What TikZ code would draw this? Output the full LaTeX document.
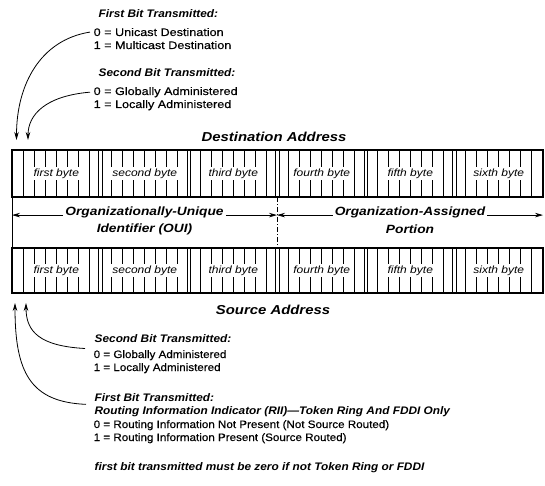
\documentclass[tikz,border=0pt]{standalone}
\usepackage{fontspec}
\setmainfont{Liberation Sans}[FakeStretch=1.15]
\newfontfamily\annfont{Liberation Sans}[FakeStretch=1.15, FakeBold=0.35]
\newfontfamily\botfont{Liberation Sans}[FakeStretch=1.08, FakeBold=0.35]
\newfontfamily\headfont{Liberation Sans}[FakeStretch=1.08]
\usetikzlibrary{arrows.meta}
\tikzset{
  ann/.style={font=\annfont\fontsize{11}{13}\selectfont, anchor=base west, inner sep=1.5bp},
  annb/.style={ann, font=\botfont\fontsize{10.8}{13}\selectfont},
  annh/.style={ann, font=\headfont\fontsize{11}{13}\selectfont\bfseries\itshape},
  bigtitle/.style={font=\fontsize{13}{15}\selectfont\bfseries\itshape, inner sep=1bp},
  portion/.style={font=\fontsize{12}{14}\selectfont\bfseries\itshape, inner sep=2bp},
  bytelbl/.style={font=\fontsize{10.5}{12}\selectfont\itshape, fill=white, inner sep=1.2bp},
  barline/.style={line width=1.3bp},
  bitline/.style={line width=0.9bp},
  ptr/.style={line width=0.8bp, -{Stealth[length=8bp,width=4.5bp]}},
}
\begin{document}
\begin{tikzpicture}[x=1bp,y=-1bp]
\useasboundingbox (0,0) rectangle (545,486);
% ---------- top annotations ----------
\node[annh] (ft1) at (97,18) {First Bit Transmitted:};
\node[ann]  (u0)  at (92,36) {0 = Unicast Destination};
\node[ann]  (u1)  at (92,49) {1 = Multicast Destination};
\node[annh] (st1) at (97,77) {Second Bit Transmitted:};
\node[ann]  (g0)  at (92,95) {0 = Globally Administered};
\node[ann]  (g1)  at (92,108) {1 = Locally Administered};
% ---------- destination address ----------
\node[bigtitle] (dst) at (274,137) {Destination Address};
\foreach \i in {0,...,5} {
  \pgfmathsetmacro\xa{12+88.5*\i}
  \foreach \k in {1,...,7} \draw[bitline] ({\xa+\k*88.5/8},150) -- ++(0,47);
}
\foreach \i in {1,...,5} {
  \pgfmathsetmacro\xb{12+88.5*\i}
  \draw[bitline] ({\xb-1.8},150) -- ++(0,47);
  \draw[bitline] ({\xb+1.8},150) -- ++(0,47);
}
\draw[barline] (12,150) rectangle (543,197);
\node[bytelbl] (d1) at (56.25,173.5) {first byte};
\node[bytelbl] (d2) at (144.75,173.5) {second byte};
\node[bytelbl] (d3) at (233.25,173.5) {third byte};
\node[bytelbl] (d4) at (321.75,173.5) {fourth byte};
\node[bytelbl] (d5) at (410.25,173.5) {fifth byte};
\node[bytelbl] (d6) at (498.75,173.5) {sixth byte};
% ---------- OUI / portion ----------
\draw[bitline] (12,197) -- (12,248);
\draw[bitline, dash pattern=on 5bp off 2bp on 1bp off 2bp] (277,197) -- (277,248);
\coordinate (Lb) at (12,216);
\coordinate (Mb) at (277,216);
\coordinate (Rb) at (543,216);
\node[portion] (oui1) at (144.5,212) {Organizationally-Unique};
\node[portion] (oui2) at (144.5,229) {Identifier (OUI)};
\node[portion] (oa1) at (410,212) {Organization-Assigned};
\node[portion] (oa2) at (410,229) {Portion};
\draw[ptr] (oui1.base west) -- (oui1.base west -| Lb);
\draw[ptr] (oui1.base east) -- (oui1.base east -| Mb);
\draw[ptr] (oa1.base west) -- (oa1.base west -| Mb);
\draw[ptr] (oa1.base east) -- (oa1.base east -| Rb);
% ---------- source address ----------
\foreach \i in {0,...,5} {
  \pgfmathsetmacro\xa{12+88.5*\i}
  \foreach \k in {1,...,7} \draw[bitline] ({\xa+\k*88.5/8},248) -- ++(0,45);
}
\foreach \i in {1,...,5} {
  \pgfmathsetmacro\xb{12+88.5*\i}
  \draw[bitline] ({\xb-1.8},248) -- ++(0,45);
  \draw[bitline] ({\xb+1.8},248) -- ++(0,45);
}
\draw[barline] (12,248) rectangle (543,293);
\node[bytelbl] (s1) at (56.25,270.5) {first byte};
\node[bytelbl] (s2) at (144.75,270.5) {second byte};
\node[bytelbl] (s3) at (233.25,270.5) {third byte};
\node[bytelbl] (s4) at (321.75,270.5) {fourth byte};
\node[bytelbl] (s5) at (410.25,270.5) {fifth byte};
\node[bytelbl] (s6) at (498.75,270.5) {sixth byte};
\node[bigtitle] (src) at (273,310) {Source Address};
% ---------- bottom annotations ----------
\node[annh] (st2) at (93,342) {Second Bit Transmitted:};
\node[annb] (h0)  at (92,358) {0 = Globally Administered};
\node[annb] (h1)  at (92,371) {1 = Locally Administered};
\node[annh] (ft2) at (93,401) {First Bit Transmitted:};
\node[annh] (rii) at (93,414) {Routing Information Indicator (RII)\textemdash Token Ring And FDDI Only};
\node[annb] (r0)  at (92,428) {0 = Routing Information Not Present (Not Source Routed)};
\node[annb] (r1)  at (92,441) {1 = Routing Information Present (Source Routed)};
\node[annh] (note) at (93,470) {first bit transmitted must be zero if not Token Ring or FDDI};
% ---------- pointer arrows ----------
\coordinate (dA) at (16.5,140);
\coordinate (dB) at (28,140);
\coordinate (sA) at (15,303);
\coordinate (sB) at (26,303);
\draw[ptr] ([xshift=-2bp]u0.west) .. controls (40,40) and (16.5,85) .. (dA);
\draw[ptr] ([xshift=-2bp]g0.west) .. controls (45,96) and (28,115) .. (dB);
\draw[ptr] ([xshift=-7bp]h0.north west) .. controls (40,346) and (26,332) .. (sB);
\draw[ptr] ([xshift=-7bp]rii.north west) .. controls (30,402) and (15,372) .. (sA);
\end{tikzpicture}
\end{document}
